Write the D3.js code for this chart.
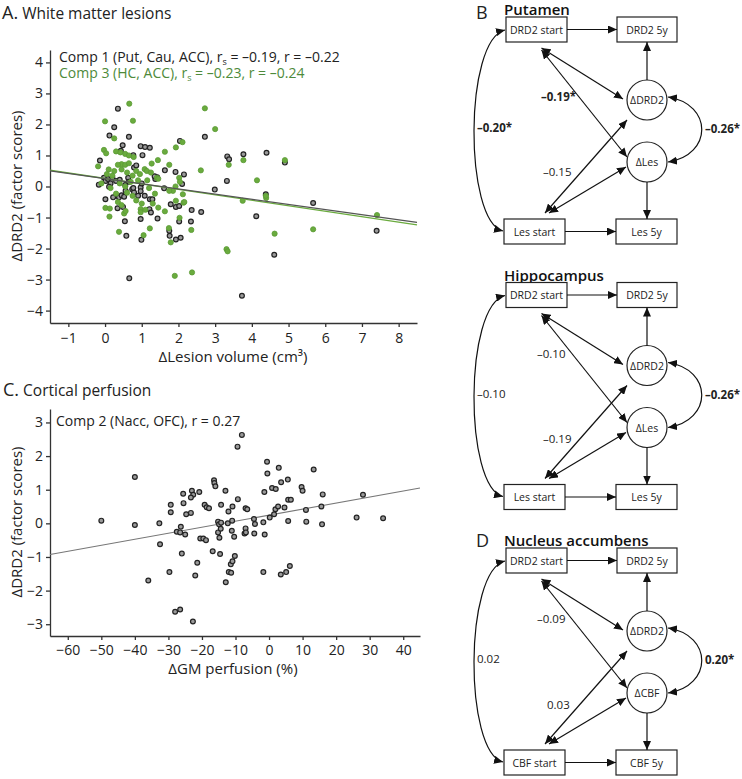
<!DOCTYPE html>
<html><head><meta charset="utf-8">
<script src="https://cdn.jsdelivr.net/npm/d3@7"></script>
<style>body{margin:0;background:#fff} svg{font-family:"Open Sans",sans-serif}</style>
</head><body><svg id="c" width="742" height="779"></svg>
<script>
// ---------- Panel A data: ΔLesion volume (cm3) vs ΔDRD2 factor scores ----------
const comp1Points = [
 [0.35,2.51],[0.25,1.91],[0.12,1.64],[0.65,1.6],[2.72,1.6],[-0.14,0.84],[0.48,1.33],[0.43,1.15],
 [0.97,1.3],[1.09,1.27],[1.22,1.25],[0.77,1.01],[1.02,1.01],[2.04,1.47],[0.79,0.61],[1.63,0.52],
 [1.92,0.47],[2.15,0.39],[1.37,0.24],[1.42,0.3],[-0.17,0.06],[-0.03,0.28],[0.02,0.18],[0.08,0.24],
 [0.2,0.28],[0.3,0.18],[0.15,0.1],[0.63,0.28],[0.65,0.15],[0.97,-0.03],[0.97,-0.15],[2.1,0.08],
 [1.61,-0.06],[2.99,-0.1],[3.32,0.18],[3.33,0.97],[3.38,0.88],[3.77,1.04],[4.4,1.09],[4.9,0.77],
 [5.67,-0.53],[4.38,-0.25],[4.12,-0.96],[7.4,-1.43],[4.61,-2.2],[3.73,-3.52],[0.66,-2.96],[0.01,-0.41],
 [0.11,-0.01],[0.3,-0.3],[0.38,-0.35],[0.45,-0.28],[0.52,-0.33],[0.34,-0.7],[0.49,-0.66],[0.54,-1.12],
 [0.58,-1.59],[0.97,-1.05],[0.99,-1.72],[1.21,-0.73],[1.25,-0.84],[1.43,-1.03],[1.08,-0.3],[1.79,-0.57],
 [1.93,-0.66],[2.02,-0.63],[2.02,-1.13],[1.75,-1.43],[1.76,-1.59],[1.93,-1.71],[2.06,-1.65],[2.36,-0.76],
 [2.34,-1.13],[2.62,-0.82],[0.74,-0.09],[0.79,-0.19],[0.9,-0.3],[0.55,0.05],[0.4,0.22],[1.35,0.33],
 [1.0,0.1],[0.22,-0.35],[0.85,0.68],[0.56,-0.14],[0.77,-0.05],[1.22,-0.41],[1.29,-0.41]
];
const comp3Points = [
 [0.66,2.67],[0.0,2.1],[0.76,2.12],[2.72,2.52],[3.0,1.85],[0.25,1.55],[-0.03,1.18],[0.03,1.07],
 [-0.19,0.65],[0.3,1.13],[0.42,1.1],[0.55,1.05],[0.65,1.0],[0.78,0.95],[1.63,1.12],[1.93,1.26],
 [2.11,1.43],[1.44,0.85],[1.27,0.74],[1.08,0.56],[1.14,0.5],[2.61,0.52],[3.37,0.7],[3.77,0.85],
 [4.9,0.85],[4.14,0.2],[4.39,-0.37],[4.38,-0.3],[3.75,-0.46],[3.31,-2.02],[3.34,-2.09],[4.62,-1.52],
 [5.67,-1.38],[7.41,-0.92],[1.9,-2.88],[2.37,-2.77],[2.35,-1.4],[1.74,-1.34],[1.79,-1.8],[1.05,-1.57],
 [1.22,-1.35],[0.38,-1.46],[0.12,-0.97],[0.01,-0.69],[0.13,-0.71],[1.41,0.28],[1.45,0.25],[2.02,0.28],
 [2.04,0.15],[1.85,-0.14],[2.12,-0.25],[2.14,-0.52],[1.93,-0.46],[2.03,-1.01],[1.63,-0.8],[1.45,-0.68],
 [0.45,0.72],[0.55,0.7],[0.35,0.7],[0.65,0.75],[0.1,0.55],[0.25,0.5],[0.45,0.55],[0.85,0.5],
 [0.95,0.4],[0.05,0.4],[0.2,0.35],[0.6,0.45],[0.75,0.35],[0.9,0.2],[1.15,0.2],[0.4,0.1],
 [0.55,0.0],[0.7,0.15],[0.15,-0.05],[0.3,-0.23],[0.6,-0.2],[0.75,-0.3],[0.85,-0.45],[1.0,-0.55],
 [0.35,-0.5],[0.52,-0.87],[0.56,-0.79],[0.97,-0.73],[0.97,-0.83],[1.36,-0.23],[0.45,-0.6],[1.1,-0.75],
 [1.3,-0.55],[1.75,0.7],[1.25,0.45],[-0.1,0.1],[1.2,-0.05],[1.75,-0.14],[1.92,0.0],[2.16,-0.5]
];
const comp1Fit = [0.254, -0.166];   // intercept, slope
const comp3Fit = [0.26, -0.176];
const lesionTicksX = [-1,0,1,2,3,4,5,6,7,8];
const lesionTicksY = [-4,-3,-2,-1,0,1,2,3,4];

// ---------- Panel C data: ΔGM perfusion (%) vs ΔDRD2 ----------
const comp2Points = [
 [-50,0.08],[-40,1.38],[-40,-0.05],[-36,-1.7],[-32.7,0.0],[-32.5,-0.62],[-29.7,-1.45],[-29.3,0.55],
 [-29.3,0.33],[-28,-2.63],[-27.5,-0.25],[-26.5,-0.27],[-26.5,-2.56],[-26.3,-0.1],[-26,-0.9],[-25.6,0.88],
 [-25.5,0.6],[-25,-0.33],[-24.7,0.27],[-23.3,0.31],[-23,0.97],[-22.6,0.85],[-23.3,0.77],[-22.7,-2.92],
 [-22,-1.55],[-21.4,-1.17],[-20.8,0.93],[-20.5,-0.45],[-19.6,-0.45],[-18.8,-0.5],[-19.2,0.55],[-18.6,0.48],
 [-17.9,0.45],[-16.8,-0.83],[-16.4,1.28],[-16.3,1.2],[-16,1.1],[-15.2,0.05],[-14.9,-0.03],[-14.3,0.02],
 [-15.2,-0.27],[-14.4,-0.16],[-14.8,-0.43],[-14.6,-0.91],[-14.3,0.55],[-13,0.97],[-12.9,-1.75],[-12.1,0.35],
 [-12,-1.45],[-11.3,-1.47],[-11.4,-1.22],[-10.9,-1.13],[-10.9,0.5],[-12.3,0.0],[-11,0.08],[-11.1,-0.22],
 [-10.4,-0.4],[-10.2,-0.97],[-9.4,2.28],[-8.1,2.63],[-9.3,0.72],[-7,0.45],[-6.5,0.42],[-7,-0.15],
 [-7.3,-0.3],[-6.9,-0.27],[-4.5,0.13],[-4.2,-0.02],[-4.4,-0.3],[-1.4,0.93],[-1.7,0.03],[-1.3,-0.33],
 [-1.7,-1.45],[-0.6,1.83],[-0.5,1.48],[0.2,0.17],[0.9,1.05],[2.0,1.02],[1.5,0.27],[1.9,0.42],
 [2.7,0.5],[2.9,1.65],[3.5,-1.52],[3.6,1.22],[4.6,0.47],[5.1,-1.45],[5.6,1.3],[5.7,0.07],
 [5.7,0.7],[6.5,0.7],[6.2,-1.27],[9.7,1.08],[10,0.97],[11,0.4],[11.1,0.05],[13.3,1.6],
 [15.6,0.5],[16,0.86],[15.8,-0.03],[26.1,0.17],[28,0.85],[34,0.15]
];
const comp2Fit = [0.244, 0.0179];
const perfTicksX = [-60,-50,-40,-30,-20,-10,0,10,20,30,40];
const perfTicksY = [-3,-2,-1,0,1,2,3];

// ---------- Panels B / D: path models ----------
const semTitles = ["Putamen","Hippocampus","Nucleus accumbens"];
const semMeasure = ["Les","Les","CBF"];
const corrStart = [-0.20,-0.10,0.02];        const sigStart = [true,false,false];
const corrDrdStartMeasChange = [-0.19,-0.10,-0.09]; const sigDrdStart = [true,false,false];
const corrMeasStartDrdChange = [-0.15,-0.19,0.03];  const sigMeasStart = [false,false,false];
const corrChanges = [-0.26,-0.26,0.20];      const sigChanges = [true,true,true];

const svg = d3.select("#c");
const fmt = v => (v < 0 ? "\u2013" : "") + Math.abs(v).toFixed(2);
const intFmt = d3.format("d");
const axisCol = "#333";

function styleAxis(g){
  g.selectAll("path,line").attr("stroke", axisCol).attr("stroke-width", 1.3);
  g.selectAll("text").attr("fill","#222").style("font-size","14px").style("font-family","'Open Sans',sans-serif");
}
function title(x, y, letter, txt){
  const t = svg.append("text").attr("x",x).attr("y",y).attr("fill","#222");
  t.append("tspan").style("font-size","18px").text(letter);
  t.append("tspan").style("font-size","15.5px").attr("dx",4).text(txt);
}

// ===== Panel A =====
title(2, 19, "A.", "White matter lesions");
const xA = d3.scaleLinear().domain([-1.5, 8.5]).range([50, 417]);
const yA = d3.scaleLinear().domain([-4.4, 4.4]).range([323, 50]);
svg.append("g").attr("transform","translate(0,323)")
  .call(d3.axisBottom(xA).tickValues(lesionTicksX).tickFormat(intFmt).tickSize(4).tickSizeOuter(0).tickPadding(6)).call(styleAxis);
svg.append("g").attr("transform","translate(50,0)")
  .call(d3.axisLeft(yA).tickValues(lesionTicksY).tickFormat(intFmt).tickSize(4).tickSizeOuter(0).tickPadding(3)).call(styleAxis);
const gA = svg.append("g");
gA.selectAll("circle.k").data(comp1Points).join("circle").attr("class","k")
  .attr("cx",d=>xA(d[0])).attr("cy",d=>yA(d[1])).attr("r",2.4)
  .attr("fill","#9a9a9a").attr("stroke","#222").attr("stroke-width",1.2);
gA.selectAll("circle.g").data(comp3Points).join("circle").attr("class","g")
  .attr("cx",d=>xA(d[0])).attr("cy",d=>yA(d[1])).attr("r",2.6)
  .attr("fill","#6aab3e").attr("stroke","#5a9a35").attr("stroke-width",0.8);
const lineA = (fit) => d3.line()(xA.domain().map(x => [xA(x), yA(fit[0] + fit[1]*x)]));
svg.append("path").attr("d", lineA(comp3Fit)).attr("stroke","#6aab3e").attr("stroke-width",1.3).attr("fill","none");
svg.append("path").attr("d", lineA(comp1Fit)).attr("stroke","#555").attr("stroke-width",1.2).attr("fill","none");
function legend(x, y, col, pre, rs, r){
  const t = svg.append("text").attr("x",x).attr("y",y).attr("fill",col).style("font-size","14px");
  t.append("tspan").text(pre + ", r");
  t.append("tspan").attr("dy",3).style("font-size","9px").text("s");
  t.append("tspan").attr("dy",-3).text(" = " + fmt(rs) + ", r = " + fmt(r));
}
legend(59, 62, "#222", "Comp 1 (Put, Cau, ACC)", -0.19, -0.22);
legend(59, 78, "#4e8a3a", "Comp 3 (HC, ACC)", -0.23, -0.24);
svg.append("text").attr("transform","translate(22,186) rotate(-90)").attr("text-anchor","middle")
  .style("font-size","15px").attr("fill","#222").text("\u0394DRD2 (factor scores)");
svg.append("text").attr("x",233).attr("y",362).attr("text-anchor","middle").style("font-size","15px").attr("fill","#222")
  .text("\u0394Lesion volume (cm\u00b3)");

// ===== Panel C =====
title(3, 396, "C.", "Cortical perfusion");
const xC = d3.scaleLinear().domain([-65.3, 45]).range([50, 420]);
const yC = d3.scaleLinear().domain([-3.35, 3.4]).range([636, 409]);
svg.append("g").attr("transform","translate(0,636)")
  .call(d3.axisBottom(xC).tickValues(perfTicksX).tickFormat(intFmt).tickSize(4).tickSizeOuter(0).tickPadding(5)).call(styleAxis);
svg.append("g").attr("transform","translate(50,0)")
  .call(d3.axisLeft(yC).tickValues(perfTicksY).tickFormat(intFmt).tickSize(4).tickSizeOuter(0).tickPadding(3)).call(styleAxis);
svg.append("path").attr("d", d3.line()(xC.domain().map(x => [xC(x), yC(comp2Fit[0] + comp2Fit[1]*x)])))
  .attr("stroke","#777").attr("stroke-width",1.1).attr("fill","none");
svg.append("g").selectAll("circle").data(comp2Points).join("circle")
  .attr("cx",d=>xC(d[0])).attr("cy",d=>yC(d[1])).attr("r",2.4)
  .attr("fill","#9a9a9a").attr("stroke","#222").attr("stroke-width",1.2);
svg.append("text").attr("x",56).attr("y",426).style("font-size","14px").attr("fill","#222")
  .text("Comp 2 (Nacc, OFC), r = " + fmt(0.27));
svg.append("text").attr("transform","translate(22,522) rotate(-90)").attr("text-anchor","middle")
  .style("font-size","15px").attr("fill","#222").text("\u0394DRD2 (factor scores)");
svg.append("text").attr("x",233).attr("y",674).attr("text-anchor","middle").style("font-size","15px").attr("fill","#222")
  .text("\u0394GM perfusion (%)");

// ===== Panels B / D =====
const defs = svg.append("defs");
defs.append("marker").attr("id","ah").attr("viewBox","0 0 9 8").attr("refX",9).attr("refY",4)
  .attr("markerWidth",9).attr("markerHeight",8).attr("markerUnits","userSpaceOnUse")
  .attr("orient","auto-start-reverse").append("path").attr("d","M0,0 L9,4 L0,8 z").attr("fill","#111");

svg.append("text").attr("x",476).attr("y",19).style("font-size","18px").attr("fill","#222").text("B");
svg.append("text").attr("x",476).attr("y",547).style("font-size","18px").attr("fill","#222").text("D");

const blockY = [0, 265.5, 531];
const upperLab = [[541,101],[537,92],[537,92]];
const lowerLab = [[543,176],[543,177],[547,178]];
semTitles.forEach((name, i) => {
  const oy = blockY[i];
  const g = svg.append("g").attr("transform", `translate(0,${oy})`);
  const m = semMeasure[i];
  g.append("text").attr("x",504).attr("y",15).style("font-size","15px").style("font-weight","600").attr("fill","#111").text(name);
  const boxes = [
    {x:506,y:17,w:61,t:"DRD2 start"},{x:617,y:17,w:60,t:"DRD2 5y"},
    {x:504,y:219,w:61,t:m+" start"},{x:616,y:219,w:61,t:m+" 5y"}];
  boxes.forEach(b => {
    g.append("rect").attr("x",b.x).attr("y",b.y).attr("width",b.w).attr("height",25)
      .attr("fill","#fff").attr("stroke","#222").attr("stroke-width",1.2);
    g.append("text").attr("x",b.x+b.w/2).attr("y",b.y+16.5).attr("text-anchor","middle")
      .style("font-size","10.5px").attr("fill","#222").text(b.t);
  });
  [[647,100,"\u0394DRD2"],[647,162,"\u0394"+m]].forEach(c => {
    g.append("circle").attr("cx",c[0]).attr("cy",c[1]).attr("r",20).attr("fill","#fff").attr("stroke","#222").attr("stroke-width",1.2);
    g.append("text").attr("x",c[0]).attr("y",c[1]+4).attr("text-anchor","middle").style("font-size","10.5px").attr("fill","#222").text(c[2]);
  });
  const arrow = (d, both) => {
    const p = g.append("path").attr("d",d).attr("fill","none").attr("stroke","#111").attr("stroke-width",1.2)
      .attr("marker-end","url(#ah)");
    if (both) p.attr("marker-start","url(#ah)");
  };
  arrow("M567,29.5 L617,29.5");
  arrow("M647,80 L647,42");
  arrow("M647,182 L647,219");
  arrow("M565,231.5 L616,231.5");
  arrow("M541.5,48 L623,99", true);
  arrow("M541.5,50 L627,157", true);
  arrow("M545,213 L627,120", true);
  arrow("M549,213 L626,167", true);
  arrow("M505,30 C 464,40 464,221 503,231", true);
  arrow("M668,97 C 713,104 713,155 668,162", true);
  const lab = (x, y, v, sig) => g.append("text").attr("x",x).attr("y",y)
      .style("font-size","11.5px").style("font-weight", sig ? "700" : "400").attr("fill","#222")
      .text(fmt(v) + (sig ? "*" : ""));
  lab(477, 132, corrStart[i], sigStart[i]);
  lab(upperLab[i][0], upperLab[i][1], corrDrdStartMeasChange[i], sigDrdStart[i]);
  lab(lowerLab[i][0], lowerLab[i][1], corrMeasStartDrdChange[i], sigMeasStart[i]);
  lab(705, 133, corrChanges[i], sigChanges[i]);
});
</script></body></html>
